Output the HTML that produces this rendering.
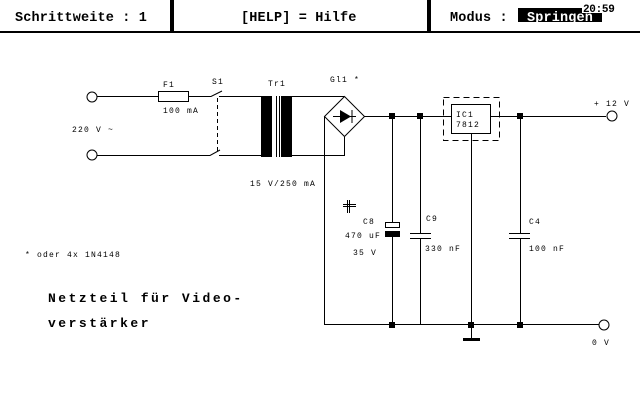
<!DOCTYPE html>
<html><head><meta charset="utf-8"><style>
html,body{margin:0;padding:0;background:#fff;width:640px;height:400px;overflow:hidden}
svg{display:block}
.h{font-family:"Liberation Mono",monospace;font-size:13.5px;font-weight:bold;letter-spacing:0.15px}
.s{font-family:"Liberation Mono",monospace;font-size:8px;letter-spacing:1.2px}
.b{font-family:"Liberation Mono",monospace;font-size:13px;font-weight:bold;letter-spacing:2.5px}
</style></head><body>
<svg width="640" height="400" viewBox="0 0 640 400" xmlns="http://www.w3.org/2000/svg">
<g fill="#000" stroke="none">
<rect x="0" y="31" width="640" height="2"/>
<rect x="170" y="0" width="4" height="31"/>
<rect x="427" y="0" width="4" height="31"/>
<rect x="518" y="8" width="84" height="14"/>
</g>
<text class="h" x="15" y="21">Schrittweite : 1</text>
<text class="h" x="241" y="21">[HELP] = Hilfe</text>
<text class="h" x="450" y="21">Modus :</text>
<text class="h" x="527" y="21" fill="#fff">Springen</text>
<rect x="582" y="1" width="34" height="12" fill="#fff"/>
<text x="583" y="12" fill="#000" style="font-family:'Liberation Mono',monospace;font-weight:bold;font-size:11px;letter-spacing:-0.3px">20:59</text>

<g stroke="#000" stroke-width="1" fill="none">
<circle cx="92" cy="97" r="5" fill="#fff"/>
<circle cx="92" cy="155" r="5" fill="#fff"/>
<path d="M97 96.5H158M188 96.5H211L222 91M219 96.5H261"/>
<rect x="158.5" y="91.5" width="30" height="10"/>
<path d="M97 155.5H210L220 150M219 155.5H261"/>
<path d="M217.5 98V152" stroke-dasharray="4,3"/>
<path d="M292 96.5H344M292 155.5H344.5V137"/>
<path d="M344.5 96.5L364.5 116.5L344.5 136.5L324.5 116.5Z"/>
<path d="M324.5 116.5V324.5H605"/>
<path d="M333 116.5H356M352 110V123"/>
<path d="M364 116.5H451M491 116.5H606"/>
<rect x="451.5" y="104.5" width="39" height="29"/>
<rect x="443.5" y="97.5" width="56" height="43" stroke-dasharray="6,4"/>
<path d="M471.5 134V338"/>
<path d="M392.5 116V222M392.5 236V325"/>
<rect x="385.5" y="222.5" width="14" height="5"/>
<path d="M420.5 116V233M420.5 238V325M410 233.5H431M410 238.5H431"/>
<path d="M520.5 116V233M520.5 238V325M509 233.5H530M509 238.5H530"/>
<circle cx="612" cy="116" r="5" fill="#fff"/>
<circle cx="604" cy="325" r="5" fill="#fff"/>
<path d="M343 206.5H356M349.5 200V213M343 204.5H356M347.5 200V213"/>
</g>
<g fill="#000">
<rect x="261" y="96" width="11" height="61"/>
<rect x="276" y="96" width="1" height="61"/>
<rect x="279" y="96" width="1" height="61"/>
<rect x="281" y="96" width="11" height="61"/>
<path d="M340 110L340 123L351 116.5Z"/>
<rect x="385" y="231" width="15" height="6"/>
<rect x="463" y="338" width="17" height="3"/>
<rect x="389" y="113" width="6" height="6"/><rect x="417" y="113" width="6" height="6"/>
<rect x="517" y="113" width="6" height="6"/>
<rect x="389" y="322" width="6" height="6"/><rect x="468" y="322" width="6" height="6"/>
<rect x="517" y="322" width="6" height="6"/>
</g>
<text class="s" x="163" y="87">F1</text>
<text class="s" x="212" y="84">S1</text>
<text class="s" x="268" y="86">Tr1</text>
<text class="s" x="330" y="82">Gl1 *</text>
<text class="s" x="163" y="113">100 mA</text>
<text class="s" x="72" y="132">220 V ~</text>
<text class="s" x="250" y="186">15 V/250 mA</text>
<text class="s" x="456" y="117">IC1</text>
<text class="s" x="456" y="127">7812</text>
<text class="s" x="594" y="106">+ 12 V</text>
<text class="s" x="592" y="345">0 V</text>
<text class="s" x="363" y="224">C8</text>
<text class="s" x="345" y="238">470 uF</text>
<text class="s" x="353" y="255">35 V</text>
<text class="s" x="426" y="221">C9</text>
<text class="s" x="425" y="251">330 nF</text>
<text class="s" x="529" y="224">C4</text>
<text class="s" x="529" y="251">100 nF</text>
<text class="s" x="25" y="257">* oder 4x 1N4148</text>
<text class="b" x="48" y="302">Netzteil für Video-</text>
<text class="b" x="48" y="327">verstärker</text>
</svg>
</body></html>
